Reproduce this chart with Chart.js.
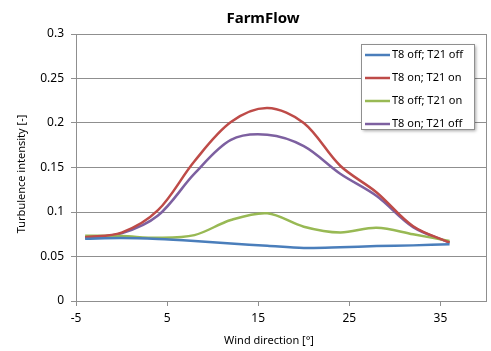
<!DOCTYPE html>
<html>
<head>
<meta charset="utf-8">
<script src="https://cdn.jsdelivr.net/npm/chart.js@4.4.1/dist/chart.umd.min.js"></script>
<style>
  html, body { margin: 0; padding: 0; background: #fff; }
  #wrap { width: 491px; height: 351px; }
</style>
</head>
<body>
<div id="wrap"><canvas id="myChart" width="491" height="351"></canvas></div>
<script>
// wind direction [deg]
const windDir = [-4, 0, 4, 8, 12, 16, 20, 24, 28, 32, 36];

const offOff = [0.070, 0.0708, 0.0697, 0.0674, 0.0645, 0.062, 0.0596, 0.0603, 0.0617, 0.0625, 0.0637];
const onOn   = [0.0716, 0.0768, 0.102, 0.157, 0.201, 0.2168, 0.200, 0.152, 0.122, 0.084, 0.0655];
const offOn  = [0.0734, 0.073, 0.071, 0.074, 0.091, 0.0985, 0.0835, 0.077, 0.0824, 0.075, 0.0674];
const onOff  = [0.0708, 0.076, 0.096, 0.143, 0.181, 0.1868, 0.174, 0.143, 0.118, 0.083, 0.0655];

const seriesNames = ['T8 off; T21 off', 'T8 on; T21 on', 'T8 off; T21 on', 'T8 on; T21 off'];
const seriesColors = ['#4a7ebb', '#be4b48', '#98b954', '#7d60a0'];

const xTicks = [-5, 5, 15, 25, 35];
const yTicks = [0, 0.05, 0.1, 0.15, 0.2, 0.25, 0.3];

const FONT = 'Noto Sans';

function toPoints(ys) {
    return ys.map((y, i) => ({ x: windDir[i], y: y }));
}

// plot frame, titles and the boxed legend inside the plot
const excelBits = {
    id: 'excelBits',
    afterDraw(chart) {
        const ctx = chart.ctx;
        const a = chart.chartArea;
        ctx.save();
        ctx.strokeStyle = '#8f8f8f';
        ctx.lineWidth = 1;
        ctx.strokeRect(Math.round(a.left) + 0.5, Math.round(a.top) + 0.5,
            Math.round(a.right - a.left), Math.round(a.bottom - a.top));

        ctx.fillStyle = '#000';
        ctx.font = 'bold 15px ' + FONT;
        ctx.textAlign = 'center';
        ctx.textBaseline = 'middle';
        ctx.fillText('FarmFlow', 263, 19);

        ctx.font = '11px ' + FONT;
        ctx.fillText('Wind direction [°]', 269, 341);
        ctx.save();
        ctx.translate(22, 174);
        ctx.rotate(-Math.PI / 2);
        ctx.fillText('Turbulence intensity [-]', 0, 0);
        ctx.restore();

        // legend
        const bx = 361, by = 44, bw = 113, bh = 85;
        ctx.save();
        ctx.shadowColor = 'rgba(0,0,0,0.35)';
        ctx.shadowBlur = 3;
        ctx.shadowOffsetX = 2;
        ctx.shadowOffsetY = 2;
        ctx.fillStyle = '#fff';
        ctx.fillRect(bx, by, bw, bh);
        ctx.restore();
        ctx.strokeStyle = '#8f8f8f';
        ctx.strokeRect(bx + 0.5, by + 0.5, bw, bh);

        ctx.font = '11px ' + FONT;
        ctx.textAlign = 'left';
        chart.data.datasets.forEach((ds, i) => {
            const yy = by + 11 + i * 23;
            ctx.strokeStyle = ds.borderColor;
            ctx.lineWidth = 2.5;
            ctx.beginPath();
            ctx.moveTo(bx + 4, yy);
            ctx.lineTo(bx + 29, yy);
            ctx.stroke();
            ctx.fillStyle = '#000';
            ctx.fillText(ds.label, bx + 31, yy);
        });
        ctx.restore();
    }
};

const ctx = document.getElementById('myChart').getContext('2d');
new Chart(ctx, {
    type: 'line',
    data: {
        datasets: [offOff, onOn, offOn, onOff].map((ys, i) => ({
            label: seriesNames[i],
            data: toPoints(ys),
            borderColor: seriesColors[i],
            backgroundColor: seriesColors[i],
            borderWidth: 2.5,
            pointRadius: 0,
            tension: 0.33,
            fill: false
        }))
    },
    options: {
        responsive: false,
        animation: false,
        layout: { padding: { top: 34, right: 5, left: 0, bottom: 0 } },
        plugins: {
            legend: { display: false },
            tooltip: { enabled: false }
        },
        scales: {
            x: {
                type: 'linear',
                min: -5,
                max: 40,
                afterBuildTicks: s => { s.ticks = xTicks.map(v => ({ value: v })); },
                afterFit: s => { s.height = 50; },
                grid: { drawOnChartArea: false, drawTicks: true, tickLength: 5, color: '#8f8f8f' },
                border: { color: '#8f8f8f' },
                ticks: { color: '#000', font: { family: FONT, size: 12 }, padding: 5, maxRotation: 0 }
            },
            y: {
                min: 0,
                max: 0.3,
                afterBuildTicks: s => { s.ticks = yTicks.map(v => ({ value: v })); },
                afterFit: s => { s.width = 76; },
                grid: { color: '#8f8f8f', tickLength: 5 },
                border: { color: '#8f8f8f' },
                ticks: {
                    color: '#000',
                    font: { family: FONT, size: 12 },
                    padding: 7,
                    callback: v => String(+v.toFixed(2))
                }
            }
        }
    },
    plugins: [excelBits]
});
</script>
</body>
</html>
